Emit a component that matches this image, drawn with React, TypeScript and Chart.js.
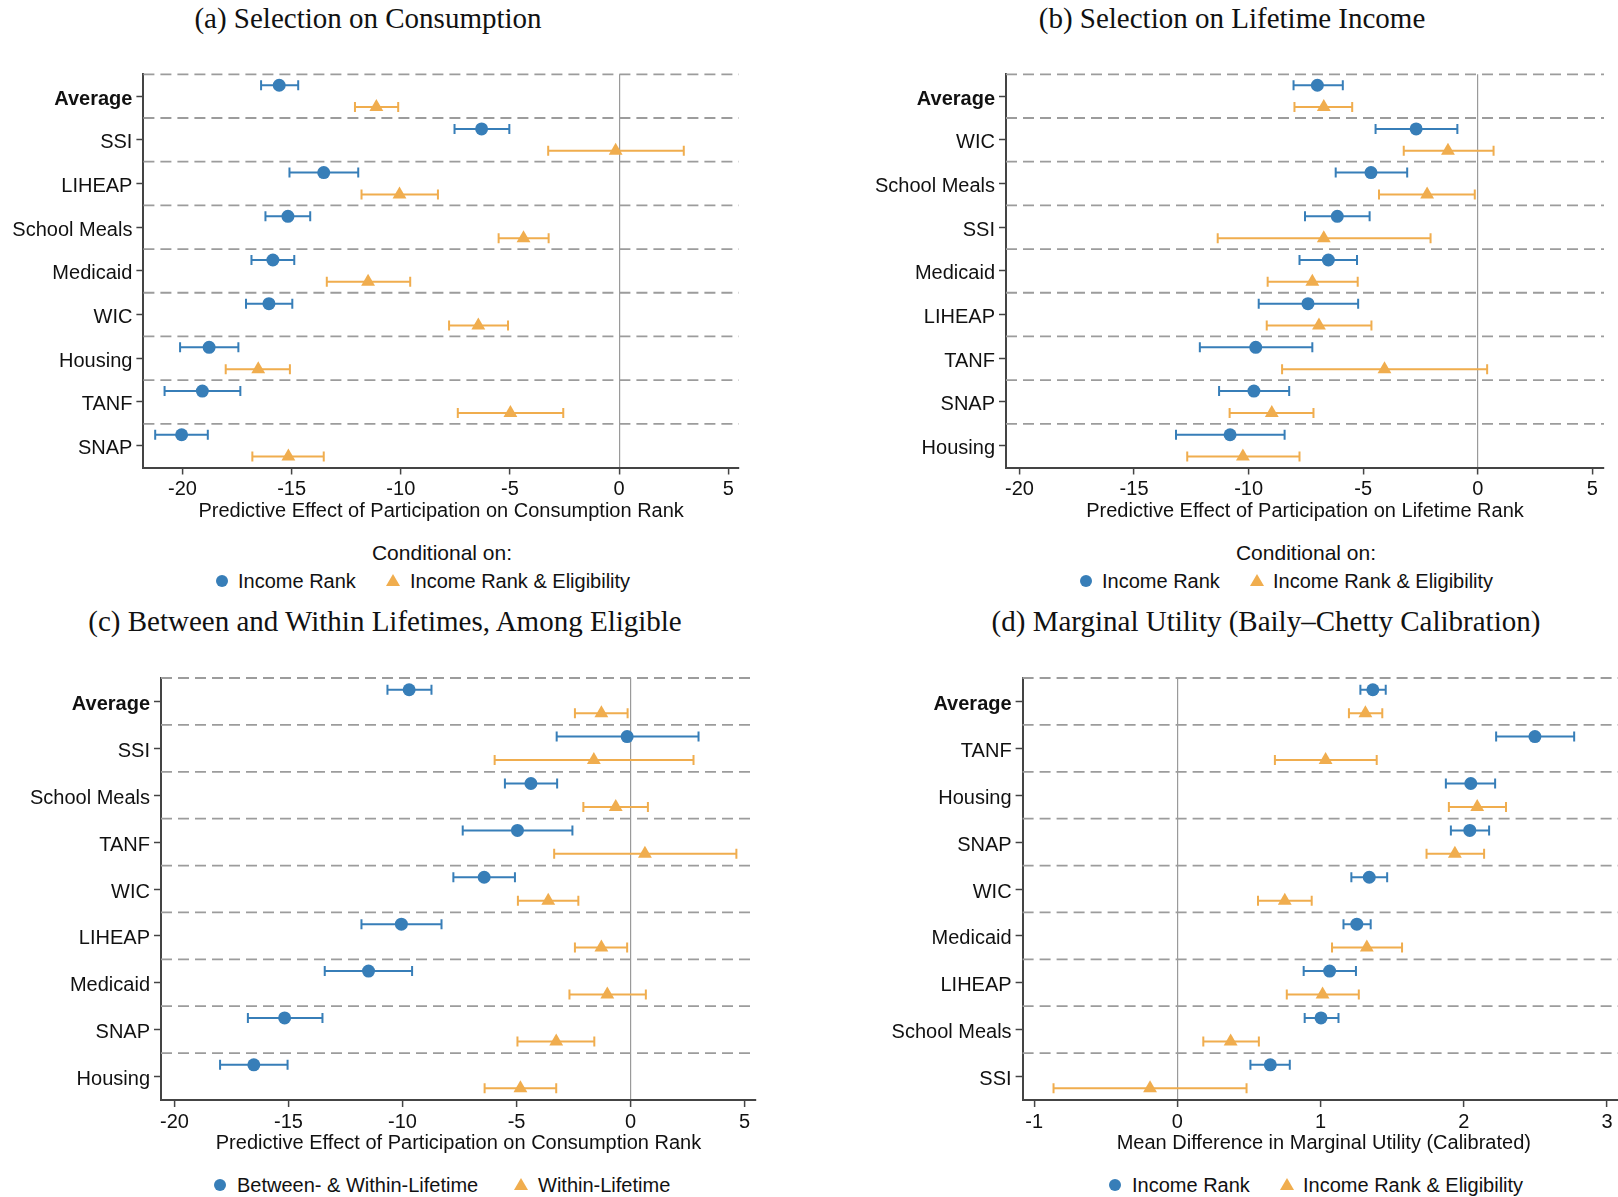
import React, { useEffect, useRef } from 'react';
import { Chart, registerables } from 'chart.js';

Chart.register(...registerables);

const SANS = '"Liberation Sans", Arial, Helvetica, sans-serif';
const SERIF = '"Liberation Serif", "Times New Roman", Times, serif';
const BLUE = '#377eb8';
const ORANGE = '#f0ad4e';
const INK = '#111111';

// (a) Selection on Consumption
const programsA = ['Average', 'SSI', 'LIHEAP', 'School Meals', 'Medicaid', 'WIC', 'Housing', 'TANF', 'SNAP'];
const incomeA = [-15.57, -6.3, -13.53, -15.17, -15.86, -16.04, -18.78, -19.09, -20.04];
const incomeLoA = [-16.4, -7.54, -15.1, -16.2, -16.84, -17.09, -20.11, -20.82, -21.25];
const incomeHiA = [-14.7, -5.03, -11.95, -14.15, -14.88, -14.97, -17.44, -17.35, -18.84];
const eligA = [-11.12, -0.16, -10.06, -4.38, -11.5, -6.45, -16.53, -4.98, -15.15];
const eligLoA = [-12.1, -3.25, -11.8, -5.52, -13.39, -7.79, -18.02, -7.39, -16.8];
const eligHiA = [-10.12, 2.96, -8.3, -3.23, -9.57, -5.09, -15.08, -2.56, -13.53];

// (b) Selection on Lifetime Income
const programsB = ['Average', 'WIC', 'School Meals', 'SSI', 'Medicaid', 'LIHEAP', 'TANF', 'SNAP', 'Housing'];
const incomeB = [-7.0, -2.69, -4.66, -6.13, -6.52, -7.41, -9.69, -9.77, -10.81];
const incomeLoB = [-8.04, -4.46, -6.2, -7.54, -7.78, -9.56, -12.13, -11.29, -13.17];
const incomeHiB = [-5.89, -0.89, -3.08, -4.72, -5.27, -5.22, -7.22, -8.23, -8.43];
const eligB = [-6.72, -1.3, -2.21, -6.72, -7.22, -6.93, -4.07, -8.99, -10.25];
const eligLoB = [-8.0, -3.23, -4.31, -11.35, -9.17, -9.21, -8.54, -10.83, -12.68];
const eligHiB = [-5.48, 0.69, -0.13, -2.06, -5.24, -4.64, 0.41, -7.17, -7.78];

// (c) Between and Within Lifetimes, Among Eligible
const programsC = ['Average', 'SSI', 'School Meals', 'TANF', 'WIC', 'LIHEAP', 'Medicaid', 'SNAP', 'Housing'];
const betweenC = [-9.71, -0.15, -4.37, -4.96, -6.42, -10.05, -11.49, -15.17, -16.52];
const betweenLoC = [-10.66, -3.24, -5.51, -7.36, -7.77, -11.8, -13.41, -16.78, -18.0];
const betweenHiC = [-8.73, 2.98, -3.22, -2.55, -5.07, -8.29, -9.58, -13.51, -15.04];
const withinC = [-1.28, -1.61, -0.65, 0.63, -3.61, -1.28, -1.02, -3.26, -4.83];
const withinLoC = [-2.44, -5.96, -2.07, -3.35, -4.94, -2.44, -2.68, -4.96, -6.4];
const withinHiC = [-0.13, 2.76, 0.76, 4.64, -2.29, -0.15, 0.67, -1.59, -3.26];

// (d) Marginal Utility (Baily–Chetty Calibration)
const programsD = ['Average', 'TANF', 'Housing', 'SNAP', 'WIC', 'Medicaid', 'LIHEAP', 'School Meals', 'SSI'];
const incomeD = [1.365, 2.497, 2.049, 2.042, 1.34, 1.253, 1.063, 1.003, 0.649];
const incomeLoD = [1.278, 2.226, 1.875, 1.91, 1.215, 1.16, 0.882, 0.889, 0.51];
const incomeHiD = [1.455, 2.771, 2.219, 2.177, 1.465, 1.35, 1.247, 1.125, 0.785];
const eligD = [1.313, 1.035, 2.094, 1.938, 0.75, 1.323, 1.014, 0.372, -0.191];
const eligLoD = [1.198, 0.681, 1.896, 1.74, 0.563, 1.08, 0.764, 0.181, -0.865];
const eligHiD = [1.431, 1.392, 2.295, 2.142, 0.938, 1.569, 1.267, 0.569, 0.483];

// Axis ticks
const ticksRank = [-20, -15, -10, -5, 0, 5];
const ticksUtility = [-1, 0, 1, 2, 3];

// Row separators and confidence-interval whiskers
const forestPlugin = {
  id: 'forest',
  beforeDatasetsDraw(chart: any) {
    const { ctx, chartArea, scales } = chart;
    const x = scales.x;
    const y = scales.y;
    const rows = chart.options.plugins.forest.rows;
    ctx.save();
    ctx.strokeStyle = '#9c9c9c';
    ctx.lineWidth = 1.8;
    ctx.setLineDash([11, 6]);
    for (let i = 0; i < rows; i++) {
      const py = y.getPixelForValue(i);
      ctx.beginPath();
      ctx.moveTo(chartArea.left, py);
      ctx.lineTo(chartArea.right, py);
      ctx.stroke();
    }
    ctx.setLineDash([]);
    chart.data.datasets.forEach((ds: any) => {
      ctx.strokeStyle = ds.borderColor;
      ctx.lineWidth = 2;
      ds.data.forEach((p: any, j: number) => {
        const py = y.getPixelForValue(p.y);
        const x1 = x.getPixelForValue(ds.errLo[j]);
        const x2 = x.getPixelForValue(ds.errHi[j]);
        ctx.beginPath();
        ctx.moveTo(x1, py);
        ctx.lineTo(x2, py);
        ctx.moveTo(x1, py - 5);
        ctx.lineTo(x1, py + 5);
        ctx.moveTo(x2, py - 5);
        ctx.lineTo(x2, py + 5);
        ctx.stroke();
      });
    });
    ctx.restore();
  },
};

function ForestChart(props: any) {
  const { rows, series, xMin, xMax, xTicks, xTitle, box, area, titlePad } = props;
  const ref = useRef<HTMLCanvasElement>(null);
  useEffect(() => {
    const canvas = ref.current as HTMLCanvasElement;
    const yWidth = area.left - box.left;
    const xHeight = box.top + box.height - area.bottom;
    const chart = new Chart(canvas, {
      type: 'scatter',
      data: {
        datasets: series.map((s: any) => ({
          label: s.label,
          data: s.values.map((v: number, i: number) => ({ x: v, y: i + s.offset })),
          errLo: s.lo,
          errHi: s.hi,
          backgroundColor: s.color,
          borderColor: s.color,
          pointStyle: s.shape,
          pointRadius: s.shape === 'circle' ? 6.5 : 8,
          pointBorderWidth: 0,
        })),
      } as any,
      options: {
        responsive: false,
        maintainAspectRatio: false,
        animation: false,
        events: [],
        layout: {
          padding: {
            left: 0,
            top: area.top - box.top,
            right: box.left + box.width - area.right,
            bottom: 0,
          },
        },
        plugins: {
          legend: { display: false },
          tooltip: { enabled: false },
          forest: { rows: rows.length },
        } as any,
        scales: {
          x: {
            type: 'linear',
            min: xMin,
            max: xMax,
            afterBuildTicks: (s: any) => {
              s.ticks = xTicks.map((v: number) => ({ value: v }));
            },
            afterFit: (s: any) => {
              s.height = xHeight;
              s.paddingLeft = 0;
              s.paddingRight = 0;
            },
            ticks: {
              font: { family: SANS, size: 20 },
              color: INK,
              padding: 3,
              maxRotation: 0,
              autoSkip: false,
              callback: (v: any) => String(v),
            },
            grid: {
              color: (c: any) => (c.tick && c.tick.value === 0 ? '#9a9a9a' : 'rgba(0,0,0,0)'),
              lineWidth: 1.2,
              tickColor: '#444',
              tickWidth: 1.5,
              tickLength: 7,
              drawTicks: true,
            },
            border: { display: true, color: '#444', width: 2 },
            title: {
              display: true,
              text: xTitle,
              font: { family: SANS, size: 20 },
              color: INK,
              padding: { top: 0, bottom: titlePad },
            },
          },
          y: {
            type: 'linear',
            reverse: true,
            min: 0,
            max: rows.length,
            afterBuildTicks: (s: any) => {
              s.ticks = rows.map((_: string, i: number) => ({ value: i + 0.5 }));
            },
            afterFit: (s: any) => {
              s.width = yWidth;
              s.paddingTop = 0;
              s.paddingBottom = 0;
            },
            ticks: {
              font: (c: any) => ({ family: SANS, size: 20, weight: c.index === 0 ? 'bold' : 'normal' }),
              color: INK,
              padding: 4,
              labelOffset: 3,
              autoSkip: false,
              callback: (_v: any, i: number) => rows[i],
            },
            grid: {
              drawOnChartArea: false,
              drawTicks: true,
              tickLength: 7,
              color: '#444',
              tickWidth: 1.5,
            },
            border: { display: true, color: '#444', width: 2 },
          },
        },
      } as any,
      plugins: [forestPlugin],
    });
    return () => chart.destroy();
  }, []);
  return (
    <canvas
      ref={ref}
      width={box.width}
      height={box.height}
      style={{ position: 'absolute', left: box.left, top: box.top, width: box.width, height: box.height }}
    />
  );
}

function PanelTitle({ text, cx, cy }: any) {
  return (
    <div
      style={{
        position: 'absolute',
        left: cx,
        top: cy,
        transform: 'translate(-50%, -50%)',
        whiteSpace: 'nowrap',
        fontFamily: SERIF,
        fontSize: 29,
        color: INK,
      }}
    >
      {text}
    </div>
  );
}

function Marker({ shape, color, cx, cy }: any) {
  if (shape === 'circle') {
    return (
      <div
        style={{
          position: 'absolute',
          left: cx - 6,
          top: cy - 6,
          width: 12,
          height: 12,
          borderRadius: 6,
          background: color,
        }}
      />
    );
  }
  return (
    <svg
      width={14}
      height={12}
      style={{ position: 'absolute', left: cx - 7, top: cy - 7 }}
    >
      <polygon points="7,0 14,12 0,12" fill={color} />
    </svg>
  );
}

function LegendText({ text, x, cy, size, center }: any) {
  return (
    <div
      style={{
        position: 'absolute',
        left: x,
        top: cy,
        transform: center ? 'translate(-50%, -50%)' : 'translate(0, -50%)',
        whiteSpace: 'nowrap',
        fontFamily: SANS,
        fontSize: size,
        color: INK,
      }}
    >
      {text}
    </div>
  );
}

function Legend({ heading, headingX, headingY, y, items }: any) {
  return (
    <>
      {heading ? <LegendText text={heading} x={headingX} cy={headingY} size={21} center /> : null}
      {items.map((it: any) => (
        <React.Fragment key={it.label}>
          <Marker shape={it.shape} color={it.color} cx={it.mx} cy={y} />
          <LegendText text={it.label} x={it.tx} cy={y} size={20} />
        </React.Fragment>
      ))}
    </>
  );
}

export default function App() {
  const incomeSeries = (values: number[], lo: number[], hi: number[]) => ({
    label: 'Income Rank', values, lo, hi, color: BLUE, shape: 'circle', offset: 0.25,
  });
  const eligSeries = (values: number[], lo: number[], hi: number[]) => ({
    label: 'Income Rank & Eligibility', values, lo, hi, color: ORANGE, shape: 'triangle', offset: 0.75,
  });

  return (
    <div
      style={{
        position: 'fixed',
        left: 0,
        top: 0,
        width: 1618,
        height: 1197,
        overflow: 'hidden',
        background: '#ffffff',
      }}
    >
      <PanelTitle text="(a) Selection on Consumption" cx={368} cy={18} />
      <PanelTitle text="(b) Selection on Lifetime Income" cx={1232} cy={18} />
      <PanelTitle text="(c) Between and Within Lifetimes, Among Eligible" cx={385} cy={621} />
      <PanelTitle text="(d) Marginal Utility (Baily–Chetty Calibration)" cx={1266} cy={621} />

      <ForestChart
        rows={programsA}
        series={[incomeSeries(incomeA, incomeLoA, incomeHiA), eligSeries(eligA, eligLoA, eligHiA)]}
        xMin={-21.79}
        xMax={5.48}
        xTicks={ticksRank}
        xTitle="Predictive Effect of Participation on Consumption Rank"
        box={{ left: 0, top: 60, width: 760, height: 470 }}
        area={{ left: 143.4, top: 74.3, right: 738.8, bottom: 467.5 }}
        titlePad={7}
      />
      <ForestChart
        rows={programsB}
        series={[incomeSeries(incomeB, incomeLoB, incomeHiB), eligSeries(eligB, eligLoB, eligHiB)]}
        xMin={-20.59}
        xMax={5.51}
        xTicks={ticksRank}
        xTitle="Predictive Effect of Participation on Lifetime Rank"
        box={{ left: 840, top: 60, width: 778, height: 470 }}
        area={{ left: 1006, top: 74.3, right: 1604, bottom: 467.5 }}
        titlePad={7}
      />
      <ForestChart
        rows={programsC}
        series={[
          { label: 'Between- & Within-Lifetime', values: betweenC, lo: betweenLoC, hi: betweenHiC, color: BLUE, shape: 'circle', offset: 0.25 },
          { label: 'Within-Lifetime', values: withinC, lo: withinLoC, hi: withinHiC, color: ORANGE, shape: 'triangle', offset: 0.75 },
        ]}
        xMin={-20.59}
        xMax={5.5}
        xTicks={ticksRank}
        xTitle="Predictive Effect of Participation on Consumption Rank"
        box={{ left: 0, top: 650, width: 780, height: 510 }}
        area={{ left: 161, top: 678, right: 756, bottom: 1100 }}
        titlePad={5}
      />
      <ForestChart
        rows={programsD}
        series={[incomeSeries(incomeD, incomeLoD, incomeHiD), eligSeries(eligD, eligLoD, eligHiD)]}
        xMin={-1.081}
        xMax={3.126}
        xTicks={ticksUtility}
        xTitle="Mean Difference in Marginal Utility (Calibrated)"
        box={{ left: 840, top: 650, width: 800, height: 510 }}
        area={{ left: 1022.6, top: 678, right: 1625, bottom: 1100 }}
        titlePad={5}
      />

      <Legend
        heading="Conditional on:"
        headingX={442}
        headingY={553}
        y={581}
        items={[
          { label: 'Income Rank', shape: 'circle', color: BLUE, mx: 222, tx: 238 },
          { label: 'Income Rank & Eligibility', shape: 'triangle', color: ORANGE, mx: 393, tx: 410 },
        ]}
      />
      <Legend
        heading="Conditional on:"
        headingX={1306}
        headingY={553}
        y={581}
        items={[
          { label: 'Income Rank', shape: 'circle', color: BLUE, mx: 1086, tx: 1102 },
          { label: 'Income Rank & Eligibility', shape: 'triangle', color: ORANGE, mx: 1257, tx: 1273 },
        ]}
      />
      <Legend
        y={1185}
        items={[
          { label: 'Between- & Within-Lifetime', shape: 'circle', color: BLUE, mx: 220, tx: 237 },
          { label: 'Within-Lifetime', shape: 'triangle', color: ORANGE, mx: 521, tx: 538 },
        ]}
      />
      <Legend
        y={1185}
        items={[
          { label: 'Income Rank', shape: 'circle', color: BLUE, mx: 1115, tx: 1132 },
          { label: 'Income Rank & Eligibility', shape: 'triangle', color: ORANGE, mx: 1287, tx: 1303 },
        ]}
      />
    </div>
  );
}
